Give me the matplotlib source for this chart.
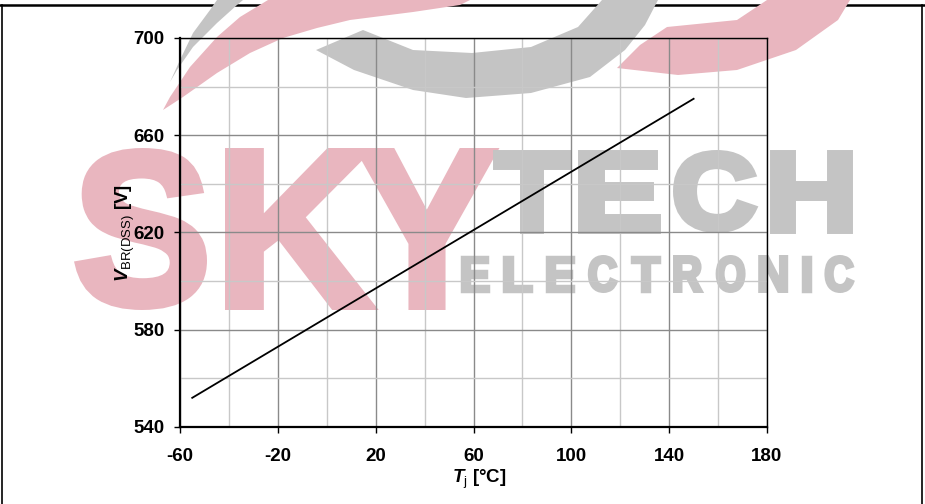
import matplotlib
matplotlib.use("Agg")
import matplotlib.pyplot as plt
from matplotlib.patches import Polygon, PathPatch
from matplotlib.textpath import TextPath
from matplotlib.font_manager import FontProperties
from matplotlib.transforms import Affine2D
from matplotlib.lines import Line2D

# ---- data ----
tj = [-55, 150]
vbr = [552, 675]
xticks = [-60, -20, 20, 60, 100, 140, 180]
yticks = [540, 580, 620, 660, 700]
xminor = [-40, 0, 40, 80, 120, 160]
yminor = [560, 600, 640, 680]

plt.rcParams['font.family'] = ['Liberation Sans', 'DejaVu Sans']
plt.rcParams['axes.unicode_minus'] = False
plt.rcParams['mathtext.fontset'] = 'custom'
plt.rcParams['mathtext.rm'] = 'Liberation Sans'
plt.rcParams['mathtext.it'] = 'Liberation Sans:italic:bold'
plt.rcParams['mathtext.bf'] = 'Liberation Sans:bold'

W, H = 925, 504
fig = plt.figure(figsize=(W / 100, H / 100), dpi=100)
ax = fig.add_axes([180 / W, 1 - 427 / H, (767 - 180) / W, (427 - 38) / H])
ax.set_facecolor('none')

ax.set_xlim(-60, 180)
ax.set_ylim(540, 700)
ax.set_xticks(xticks)
ax.set_yticks(yticks)
ax.set_xticks(xminor, minor=True)
ax.set_yticks(yminor, minor=True)
ax.grid(True, which='major', color='#8a8a8a', linewidth=1.0)
ax.grid(True, which='minor', color='#c8c8c8', linewidth=1.0)
ax.set_axisbelow(True)
ax.tick_params(which='minor', length=0)
ax.tick_params(which='major', direction='out', length=4.5, width=1.0,
               labelsize=13.5, color='black')
ax.tick_params(axis='y', which='major', pad=6.5)
ax.tick_params(axis='x', which='major', pad=10.5)
for lab in ax.get_xticklabels() + ax.get_yticklabels():
    lab.set_fontweight('bold')

for s in ['left', 'bottom']:
    ax.spines[s].set_linewidth(1.6)
for s in ['top', 'right']:
    ax.spines[s].set_linewidth(1.0)

ax.plot(tj, vbr, color='black', linewidth=1.3)

ax.set_xlabel(r'$\mathit{T}_{\mathrm{j}}$ [°C]', fontsize=13.5, fontweight='bold')
ax.set_ylabel(r'$\mathit{V}_{\mathrm{BR(DSS)}}$ [V]', fontsize=13.5, fontweight='bold')
ax.xaxis.set_label_coords(0.51, -0.105)
ax.yaxis.set_label_coords(-0.074, 0.5)

# ---- frame around figure (pixel coords, y down) ----
pix = Affine2D().scale(1 / W, -1 / H).translate(0, 1) + fig.transFigure
fig.add_artist(Line2D([0, W], [5, 5], color='black', linewidth=1.8, transform=pix, zorder=-3))
fig.add_artist(Line2D([1.5, 1.5], [5, H], color='black', linewidth=1.2, transform=pix, zorder=-3))
fig.add_artist(Line2D([921.5, 921.5], [5, H], color='black', linewidth=1.2, transform=pix, zorder=-3))

# ---- watermark (drawn beneath the axes content) ----
pink = '#e9b6bf'
gray = '#c4c4c4'

def poly(pts, color):
    fig.add_artist(Polygon(pts, closed=True, facecolor=color, edgecolor='none',
                           transform=pix, zorder=-1))

# gray arc
poly([(316, 50), (354, 70), (413, 90), (466, 98), (531, 93), (590, 77), (625, 50),
      (645, 25), (658, 0), (602, 0), (578, 27), (531, 47), (472, 53), (413, 50),
      (363, 30)], gray)
# thin gray swoosh
poly([(170, 82), (180, 60), (193, 33), (210, 10), (217, 0), (243, 0), (237, 5),
      (217, 23), (193, 47), (177, 70)], gray)
# big pink swoosh (left)
poly([(163, 110), (183, 97), (217, 73), (250, 53), (283, 38), (317, 28), (350, 20),
      (413, 12), (460, 5), (470, 0), (268, 0), (240, 17), (217, 37), (190, 67),
      (170, 97)], pink)
# pink crescent (right)
poly([(617, 68), (640, 45), (667, 27), (737, 20), (767, 0), (850, 0), (838, 20),
      (796, 50), (737, 70), (678, 75)], pink)

fp = FontProperties(family='Liberation Sans', weight='bold')

def fit_text(s, x0, x1, y0, y1, color, lw=0.0):
    tp = TextPath((0, 0), s, size=1, prop=fp)
    bb = tp.get_extents()
    i = lw * 100 / 72 / 2  # half stroke width in pixels
    sx = (x1 - x0 - 2 * i) / bb.width
    sy = (y1 - y0 - 2 * i) / bb.height
    tr = Affine2D().translate(-bb.x0, -bb.y0).scale(sx, -sy).translate(x0 + i, y1 - i) + pix
    fig.add_artist(PathPatch(tp, facecolor=color, edgecolor=color if lw else 'none',
                             linewidth=lw, joinstyle='miter', transform=tr, zorder=-1))

fit_text('S', 75, 207, 148, 310, pink, lw=6)
fit_text('K', 225, 375, 148, 310, pink, lw=5)
fit_text('Y', 357, 497, 148, 310, pink, lw=5)

for ch, a, b in [('T', 493, 570), ('E', 578, 660), ('C', 673, 757), ('H', 770, 852)]:
    fit_text(ch, a, b, 150, 233, gray, lw=5)

letters = ['E', 'L', 'E', 'C', 'T', 'R', 'O', 'N', 'I', 'C']
x = 460.0
for ch in letters:
    w = 11 if ch == 'I' else 30
    fit_text(ch, x, x + w, 255, 293, gray, lw=2.5)
    x += w + 12.6

fig.savefig('out.png', dpi=100)
